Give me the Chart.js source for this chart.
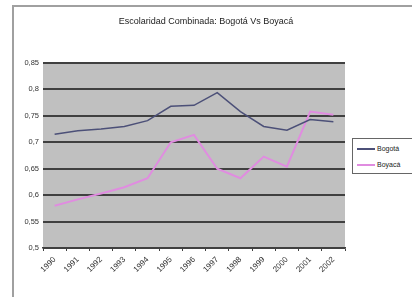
<!DOCTYPE html>
<html>
<head>
<meta charset="utf-8">
<script src="https://cdn.jsdelivr.net/npm/chart.js@4/dist/chart.umd.min.js"></script>
<style>
  html, body { margin: 0; padding: 0; background: #fff; }
  #wrap { position: relative; width: 412px; height: 297px; overflow: hidden; font-family: "Liberation Sans", Arial, sans-serif; }
  #frame { position: absolute; left: 12px; top: 5px; width: 420px; height: 310px; border-left: 2px solid #a0a0a0; border-top: 2px solid #a0a0a0; box-sizing: border-box; }
  #title { position: absolute; left: 0; width: 412px; top: 16px; text-align: center; font-size: 9px; color: #222; }
  #legend { position: absolute; left: 352px; top: 138px; width: 70px; height: 36px; border: 1px solid #666; background: #fff; box-sizing: border-box; font-size: 7px; color: #222; }
  .item { position: absolute; left: 4px; height: 10px; line-height: 10px; white-space: nowrap; }
  .item i { display: inline-block; width: 18px; height: 0; border-top: 2px solid; vertical-align: middle; margin-right: 2px; }
  canvas { position: absolute; left: 0; top: 0; }
</style>
</head>
<body>
<div id="wrap">
  <div id="frame"></div>
  <canvas id="chart" width="412" height="297"></canvas>
  <div id="title">Escolaridad Combinada: Bogotá Vs Boyacá</div>
  <div id="legend"></div>
</div>
<script>
// datos
const years = ['1990', '1991', '1992', '1993', '1994', '1995', '1996', '1997', '1998', '1999', '2000', '2001', '2002'];

const bogota = [0.715, 0.722, 0.725, 0.730, 0.741, 0.768, 0.770, 0.794, 0.758, 0.730, 0.723, 0.743, 0.739];
const boyaca = [0.580, 0.592, 0.603, 0.615, 0.632, 0.700, 0.714, 0.650, 0.632, 0.673, 0.654, 0.758, 0.752];

const yTicks = [0.5, 0.55, 0.6, 0.65, 0.7, 0.75, 0.8, 0.85];

const colBogota = '#4c5078';
const colBoyaca = '#e08ce0';

const plotBg = {
    id: 'plotBg',
    beforeDraw(chart) {
        const a = chart.chartArea;
        const c = chart.ctx;
        c.save();
        c.fillStyle = '#c0c0c0';
        c.fillRect(a.left, a.top, a.right - a.left, a.bottom - a.top);
        c.restore();
    }
};

const ctx = document.getElementById('chart').getContext('2d');

const chart = new Chart(ctx, {
    type: 'line',
    data: {
        labels: years,
        datasets: [{
            label: 'Bogotá',
            data: bogota,
            borderColor: colBogota,
            borderWidth: 1.5,
            pointRadius: 0,
            tension: 0,
        }, {
            label: 'Boyacá',
            data: boyaca,
            borderColor: colBoyaca,
            borderWidth: 2,
            pointRadius: 0,
            tension: 0,
        }],
    },
    options: {
        responsive: false,
        animation: false,
        layout: { padding: { left: 0, right: 67, top: 63, bottom: 0 } },
        plugins: {
            legend: { display: false },
            title: { display: false },
            tooltip: { enabled: false },
        },
        scales: {
            x: {
                offset: true,
                grid: { offset: true, drawOnChartArea: false, drawTicks: true, tickLength: 3, color: '#404040' },
                border: { color: '#404040', width: 1.5 },
                ticks: {
                    font: { family: 'Liberation Sans', size: 8 },
                    color: '#333',
                    maxRotation: 45,
                    minRotation: 45,
                    autoSkip: false,
                    padding: 4,
                },
                afterFit(scale) { scale.height = 49; },
            },
            y: {
                min: 0.5,
                max: 0.85,
                afterBuildTicks(scale) { scale.ticks = yTicks.map(v => ({ value: v })); },
                grid: { color: '#404040', lineWidth: 2, drawTicks: false },
                border: { display: false },
                ticks: {
                    font: { family: 'Liberation Sans', size: 7.5 },
                    color: '#333',
                    padding: 4,
                    callback: v => String(+(+v).toFixed(2)).replace('.', ','),
                },
                afterFit(scale) { scale.width = 43; },
            },
        },
    },
    plugins: [plotBg],
});

// leyenda
const lg = document.getElementById('legend');
chart.data.datasets.forEach((ds, i) => {
    const d = document.createElement('div');
    d.className = 'item';
    d.style.top = (5 + i * 16) + 'px';
    d.innerHTML = '<i style="border-color:' + ds.borderColor + '"></i>' + ds.label;
    lg.appendChild(d);
});
</script>
</body>
</html>
